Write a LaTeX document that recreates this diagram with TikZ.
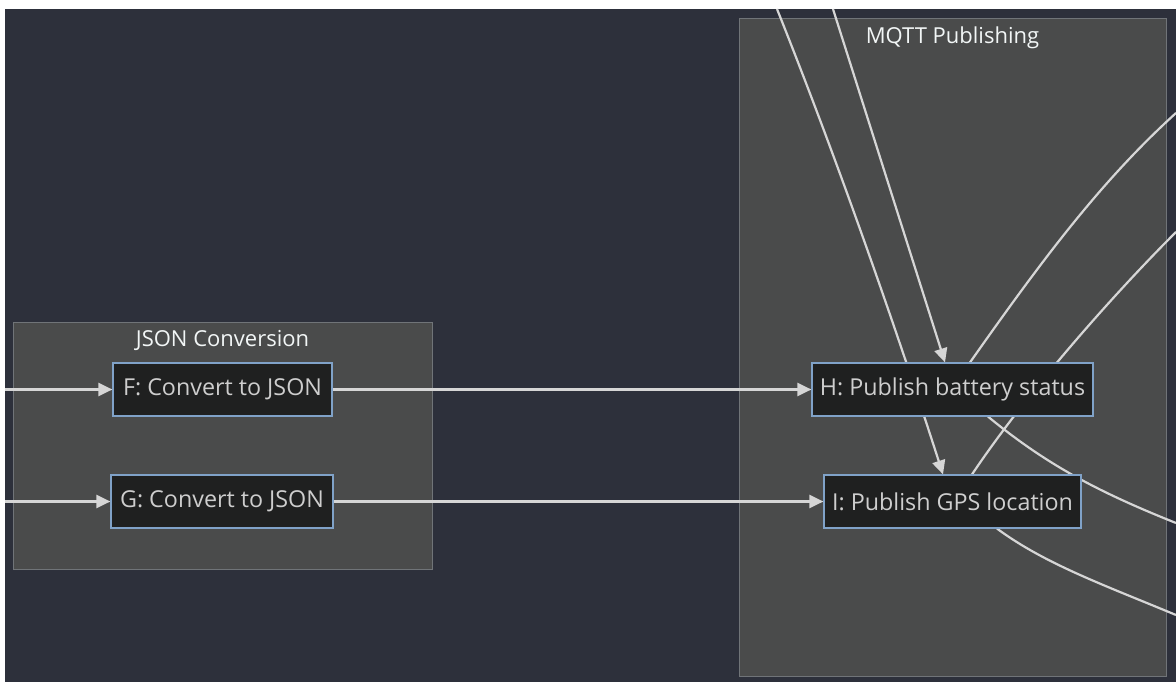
\documentclass[tikz,border=0pt]{standalone}
\usepackage{fontspec}
\setmainfont{Open Sans}
\usetikzlibrary{arrows.meta}

\definecolor{pagebg}{RGB}{45,48,59}
\definecolor{clusterfill}{RGB}{74,75,75}
\definecolor{clusterline}{RGB}{112,116,120}
\definecolor{boxfill}{RGB}{31,32,32}
\definecolor{boxline}{RGB}{128,162,200}
\definecolor{boxtext}{RGB}{206,206,206}
\definecolor{titletext}{RGB}{242,246,246}
\definecolor{edgeline}{RGB}{214,214,214}

\pgfdeclarelayer{back}
\pgfdeclarelayer{edges}
\pgfsetlayers{back,edges,main}

\tikzset{
  cluster/.style={draw=clusterline, fill=clusterfill, line width=1pt, inner sep=0pt},
  ctitle/.style={text=titletext, font=\fontsize{22}{26}\selectfont},
  proc/.style={draw=boxline, fill=boxfill, text=boxtext, line width=1.2pt,
    minimum height=53pt, inner sep=0pt, font=\fontsize{23.3}{27}\selectfont},
  flow/.style={draw=edgeline, line width=2.2pt},
  tip/.style={-{Triangle[length=14pt,width=13pt]}}
}

\begin{document}
\begin{tikzpicture}[x=1pt,y=-1pt]
    \useasboundingbox (0,0) rectangle (1176,682);
    % page
    \begin{pgfonlayer}{back}
    \fill[white] (0,0) rectangle (1176,682);
    \fill[pagebg] (5,9) rectangle (1176,682);
    \node (json) at (222.5,445.5) [cluster, minimum width=419pt, minimum height=247pt] {};
    \node (mqtt) at (952.5,347.5) [cluster, minimum width=427pt, minimum height=657pt] {};
    \end{pgfonlayer}
    % subgraph titles
    \node at (222.5,340) [ctitle] {JSON Conversion};
    \node at (952.5,38) [ctitle] {MQTT Publishing};
    % steps
    \node (F) at (222.5,389.5) [proc, minimum width=219pt] {F: Convert to JSON};
    \node (G) at (222,501.5) [proc, minimum width=222pt] {G: Convert to JSON};
    \node (H) at (952.5,389.5) [proc, minimum width=281pt] {H: Publish battery status};
    \node (I) at (952.5,501.5) [proc, minimum width=257pt] {I: Publish GPS location};
    % loose ends outside the view
    \coordinate (inF) at (5,389.5);
    \coordinate (inG) at (5,501.5);
    \coordinate (topH) at (833,9);
    \coordinate (topI) at (777,9);
    \coordinate (outH1) at (1176,113);
    \coordinate (outI1) at (1176,232);
    \coordinate (outH2) at (1176,523);
    \coordinate (outI2) at (1176,615);
    % connectors
    \begin{pgfonlayer}{edges}
    \draw[flow, tip] (inF) -- (F.west);
    \draw[flow, tip] (inG) -- (G.west);
    \draw[flow, tip] (F.east) -- (H.west);
    \draw[flow, tip] (G.east) -- (I.west);
    \draw[flow, tip] (topH) -- ([xshift=-7.5pt]H.north);
    \draw[flow, tip] (topI) .. controls (837,159) and (895,325) .. ([xshift=-9.5pt]I.north);
    \draw[flow] ([xshift=17.5pt]H.north) .. controls (1040,263) and (1099,183) .. (outH1);
    \draw[flow] ([xshift=19.5pt]I.north) .. controls (1030,388) and (1116,292) .. (outI1);
    \draw[flow] ([xshift=35.5pt]H.south) .. controls (1048,466) and (1101,493) .. (outH2);
    \draw[flow] ([xshift=44.5pt]I.south) .. controls (1045,564) and (1104,585) .. (outI2);
    \end{pgfonlayer}
\end{tikzpicture}
\end{document}
